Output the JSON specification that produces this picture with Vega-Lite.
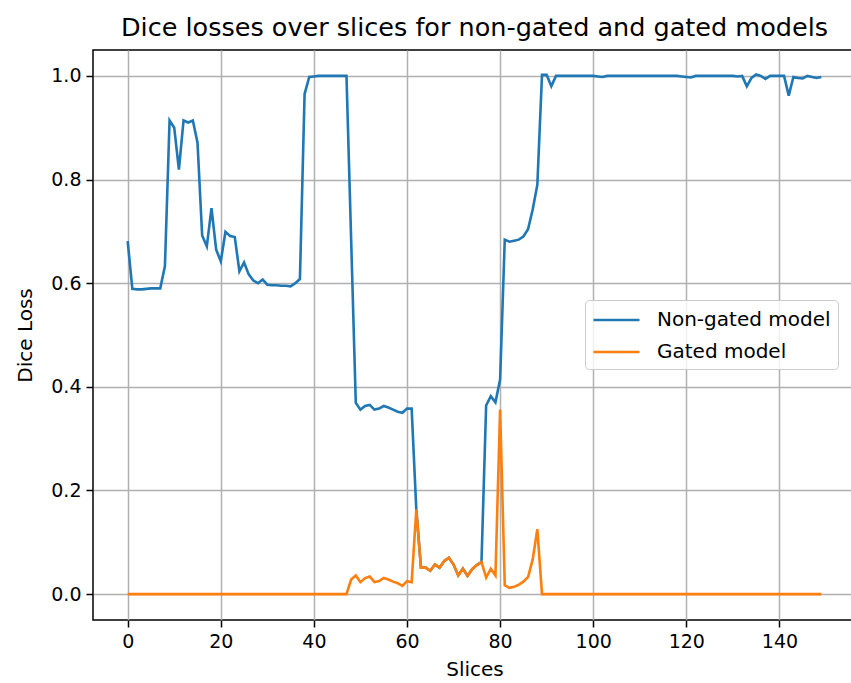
{
  "$schema": "https://vega.github.io/schema/vega-lite/v6.json",
  "autosize": "none",
  "padding": {"left": 93, "top": 50, "right": 0, "bottom": 63},
  "width": 763,
  "height": 570,
  "title": {"text": "Dice losses over slices for non-gated and gated models", "fontSize": 25.5, "font": "DejaVu Sans", "fontWeight": "normal", "color": "black", "offset": 9},
  "data": {"values": [
    {"slice":0,"Non-gated model":0.681,"Gated model":0},
    {"slice":1,"Non-gated model":0.589,"Gated model":0},
    {"slice":2,"Non-gated model":0.588,"Gated model":0},
    {"slice":3,"Non-gated model":0.588,"Gated model":0},
    {"slice":4,"Non-gated model":0.589,"Gated model":0},
    {"slice":5,"Non-gated model":0.590,"Gated model":0},
    {"slice":6,"Non-gated model":0.590,"Gated model":0},
    {"slice":7,"Non-gated model":0.590,"Gated model":0},
    {"slice":8,"Non-gated model":0.633,"Gated model":0},
    {"slice":9,"Non-gated model":0.914,"Gated model":0},
    {"slice":10,"Non-gated model":0.900,"Gated model":0},
    {"slice":11,"Non-gated model":0.819,"Gated model":0},
    {"slice":12,"Non-gated model":0.914,"Gated model":0},
    {"slice":13,"Non-gated model":0.910,"Gated model":0},
    {"slice":14,"Non-gated model":0.914,"Gated model":0},
    {"slice":15,"Non-gated model":0.871,"Gated model":0},
    {"slice":16,"Non-gated model":0.692,"Gated model":0},
    {"slice":17,"Non-gated model":0.671,"Gated model":0},
    {"slice":18,"Non-gated model":0.745,"Gated model":0},
    {"slice":19,"Non-gated model":0.665,"Gated model":0},
    {"slice":20,"Non-gated model":0.642,"Gated model":0},
    {"slice":21,"Non-gated model":0.699,"Gated model":0},
    {"slice":22,"Non-gated model":0.691,"Gated model":0},
    {"slice":23,"Non-gated model":0.689,"Gated model":0},
    {"slice":24,"Non-gated model":0.623,"Gated model":0},
    {"slice":25,"Non-gated model":0.640,"Gated model":0},
    {"slice":26,"Non-gated model":0.617,"Gated model":0},
    {"slice":27,"Non-gated model":0.605,"Gated model":0},
    {"slice":28,"Non-gated model":0.600,"Gated model":0},
    {"slice":29,"Non-gated model":0.607,"Gated model":0},
    {"slice":30,"Non-gated model":0.597,"Gated model":0},
    {"slice":31,"Non-gated model":0.596,"Gated model":0},
    {"slice":32,"Non-gated model":0.596,"Gated model":0},
    {"slice":33,"Non-gated model":0.595,"Gated model":0},
    {"slice":34,"Non-gated model":0.595,"Gated model":0},
    {"slice":35,"Non-gated model":0.594,"Gated model":0},
    {"slice":36,"Non-gated model":0.600,"Gated model":0},
    {"slice":37,"Non-gated model":0.608,"Gated model":0},
    {"slice":38,"Non-gated model":0.965,"Gated model":0},
    {"slice":39,"Non-gated model":0.998,"Gated model":0},
    {"slice":40,"Non-gated model":0.999,"Gated model":0},
    {"slice":41,"Non-gated model":1.0,"Gated model":0},
    {"slice":42,"Non-gated model":1.0,"Gated model":0},
    {"slice":43,"Non-gated model":1.0,"Gated model":0},
    {"slice":44,"Non-gated model":1.0,"Gated model":0},
    {"slice":45,"Non-gated model":1.0,"Gated model":0},
    {"slice":46,"Non-gated model":1.0,"Gated model":0},
    {"slice":47,"Non-gated model":1.0,"Gated model":0},
    {"slice":48,"Non-gated model":0.685,"Gated model":0.028},
    {"slice":49,"Non-gated model":0.369,"Gated model":0.036},
    {"slice":50,"Non-gated model":0.356,"Gated model":0.023},
    {"slice":51,"Non-gated model":0.363,"Gated model":0.031},
    {"slice":52,"Non-gated model":0.365,"Gated model":0.034},
    {"slice":53,"Non-gated model":0.356,"Gated model":0.023},
    {"slice":54,"Non-gated model":0.358,"Gated model":0.025},
    {"slice":55,"Non-gated model":0.363,"Gated model":0.031},
    {"slice":56,"Non-gated model":0.360,"Gated model":0.028},
    {"slice":57,"Non-gated model":0.356,"Gated model":0.024},
    {"slice":58,"Non-gated model":0.352,"Gated model":0.021},
    {"slice":59,"Non-gated model":0.350,"Gated model":0.016},
    {"slice":60,"Non-gated model":0.358,"Gated model":0.025},
    {"slice":61,"Non-gated model":0.358,"Gated model":0.023},
    {"slice":62,"Non-gated model":0.163,"Gated model":0.163},
    {"slice":63,"Non-gated model":0.051,"Gated model":0.051},
    {"slice":64,"Non-gated model":0.051,"Gated model":0.051},
    {"slice":65,"Non-gated model":0.045,"Gated model":0.045},
    {"slice":66,"Non-gated model":0.057,"Gated model":0.057},
    {"slice":67,"Non-gated model":0.051,"Gated model":0.051},
    {"slice":68,"Non-gated model":0.064,"Gated model":0.064},
    {"slice":69,"Non-gated model":0.070,"Gated model":0.070},
    {"slice":70,"Non-gated model":0.057,"Gated model":0.057},
    {"slice":71,"Non-gated model":0.036,"Gated model":0.036},
    {"slice":72,"Non-gated model":0.049,"Gated model":0.049},
    {"slice":73,"Non-gated model":0.035,"Gated model":0.035},
    {"slice":74,"Non-gated model":0.048,"Gated model":0.048},
    {"slice":75,"Non-gated model":0.056,"Gated model":0.056},
    {"slice":76,"Non-gated model":0.062,"Gated model":0.062},
    {"slice":77,"Non-gated model":0.364,"Gated model":0.032},
    {"slice":78,"Non-gated model":0.382,"Gated model":0.049},
    {"slice":79,"Non-gated model":0.370,"Gated model":0.036},
    {"slice":80,"Non-gated model":0.414,"Gated model":0.356},
    {"slice":81,"Non-gated model":0.684,"Gated model":0.017},
    {"slice":82,"Non-gated model":0.680,"Gated model":0.012},
    {"slice":83,"Non-gated model":0.682,"Gated model":0.014},
    {"slice":84,"Non-gated model":0.684,"Gated model":0.018},
    {"slice":85,"Non-gated model":0.690,"Gated model":0.024},
    {"slice":86,"Non-gated model":0.704,"Gated model":0.033},
    {"slice":87,"Non-gated model":0.742,"Gated model":0.067},
    {"slice":88,"Non-gated model":0.790,"Gated model":0.125},
    {"slice":89,"Non-gated model":1.002,"Gated model":0},
    {"slice":90,"Non-gated model":1.002,"Gated model":0},
    {"slice":91,"Non-gated model":0.980,"Gated model":0},
    {"slice":92,"Non-gated model":1.0,"Gated model":0},
    {"slice":93,"Non-gated model":1.0,"Gated model":0},
    {"slice":94,"Non-gated model":1.0,"Gated model":0},
    {"slice":95,"Non-gated model":1.0,"Gated model":0},
    {"slice":96,"Non-gated model":1.0,"Gated model":0},
    {"slice":97,"Non-gated model":1.0,"Gated model":0},
    {"slice":98,"Non-gated model":1.0,"Gated model":0},
    {"slice":99,"Non-gated model":1.0,"Gated model":0},
    {"slice":100,"Non-gated model":1.0,"Gated model":0},
    {"slice":101,"Non-gated model":0.999,"Gated model":0},
    {"slice":102,"Non-gated model":0.998,"Gated model":0},
    {"slice":103,"Non-gated model":1.0,"Gated model":0},
    {"slice":104,"Non-gated model":1.0,"Gated model":0},
    {"slice":105,"Non-gated model":1.0,"Gated model":0},
    {"slice":106,"Non-gated model":1.0,"Gated model":0},
    {"slice":107,"Non-gated model":1.0,"Gated model":0},
    {"slice":108,"Non-gated model":1.0,"Gated model":0},
    {"slice":109,"Non-gated model":1.0,"Gated model":0},
    {"slice":110,"Non-gated model":1.0,"Gated model":0},
    {"slice":111,"Non-gated model":1.0,"Gated model":0},
    {"slice":112,"Non-gated model":1.0,"Gated model":0},
    {"slice":113,"Non-gated model":1.0,"Gated model":0},
    {"slice":114,"Non-gated model":1.0,"Gated model":0},
    {"slice":115,"Non-gated model":1.0,"Gated model":0},
    {"slice":116,"Non-gated model":1.0,"Gated model":0},
    {"slice":117,"Non-gated model":1.0,"Gated model":0},
    {"slice":118,"Non-gated model":1.0,"Gated model":0},
    {"slice":119,"Non-gated model":0.999,"Gated model":0},
    {"slice":120,"Non-gated model":0.998,"Gated model":0},
    {"slice":121,"Non-gated model":0.997,"Gated model":0},
    {"slice":122,"Non-gated model":1.0,"Gated model":0},
    {"slice":123,"Non-gated model":1.0,"Gated model":0},
    {"slice":124,"Non-gated model":1.0,"Gated model":0},
    {"slice":125,"Non-gated model":1.0,"Gated model":0},
    {"slice":126,"Non-gated model":1.0,"Gated model":0},
    {"slice":127,"Non-gated model":1.0,"Gated model":0},
    {"slice":128,"Non-gated model":1.0,"Gated model":0},
    {"slice":129,"Non-gated model":1.0,"Gated model":0},
    {"slice":130,"Non-gated model":1.0,"Gated model":0},
    {"slice":131,"Non-gated model":0.999,"Gated model":0},
    {"slice":132,"Non-gated model":1.0,"Gated model":0},
    {"slice":133,"Non-gated model":0.980,"Gated model":0},
    {"slice":134,"Non-gated model":0.996,"Gated model":0},
    {"slice":135,"Non-gated model":1.003,"Gated model":0},
    {"slice":136,"Non-gated model":1.0,"Gated model":0},
    {"slice":137,"Non-gated model":0.994,"Gated model":0},
    {"slice":138,"Non-gated model":1.0,"Gated model":0},
    {"slice":139,"Non-gated model":1.0,"Gated model":0},
    {"slice":140,"Non-gated model":1.0,"Gated model":0},
    {"slice":141,"Non-gated model":1.0,"Gated model":0},
    {"slice":142,"Non-gated model":0.962,"Gated model":0},
    {"slice":143,"Non-gated model":0.998,"Gated model":0},
    {"slice":144,"Non-gated model":0.996,"Gated model":0},
    {"slice":145,"Non-gated model":0.995,"Gated model":0},
    {"slice":146,"Non-gated model":1.0,"Gated model":0},
    {"slice":147,"Non-gated model":0.998,"Gated model":0},
    {"slice":148,"Non-gated model":0.996,"Gated model":0},
    {"slice":149,"Non-gated model":0.998,"Gated model":0}
  ]},
  "transform": [{"fold": ["Non-gated model", "Gated model"], "as": ["model", "loss"]}],
  "mark": {"type": "line", "strokeWidth": 2.6, "clip": true},
  "encoding": {
    "x": {"field": "slice", "type": "quantitative",
      "scale": {"domain": [-7.45, 156.45], "nice": false, "zero": false},
      "axis": {"title": "Slices", "values": [0,20,40,60,80,100,120,140], "format": "d"}},
    "y": {"field": "loss", "type": "quantitative",
      "scale": {"domain": [-0.05, 1.05], "nice": false, "zero": false},
      "axis": {"title": "Dice Loss", "values": [0,0.2,0.4,0.6,0.8,1.0], "format": ".1f"}},
    "color": {"field": "model", "type": "nominal",
      "scale": {"domain": ["Non-gated model", "Gated model"], "range": ["#1f77b4", "#ff7f0e"]},
      "legend": {"orient": "none", "legendX": 492, "legendY": 250, "title": null,
        "symbolType": "M-1,0H3", "symbolSize": 529, "symbolStrokeWidth": 2.6,
        "labelFontSize": 20, "labelOffset": 39, "labelLimit": 400, "rowPadding": 9, "padding": 7,
        "fillColor": "rgba(255,255,255,0.8)", "strokeColor": "#cccccc", "cornerRadius": 4,
        "labelColor": "black", "labelFont": "DejaVu Sans"}}
  },
  "config": {
    "font": "DejaVu Sans",
    "view": {"stroke": "black", "strokeWidth": 1.5},
    "axis": {
      "domain": false,
      "grid": true, "gridColor": "#b0b0b0", "gridWidth": 1.5,
      "ticks": true, "tickColor": "black", "tickSize": 7, "tickWidth": 1.5,
      "labelFont": "DejaVu Sans", "labelFontSize": 19, "labelColor": "black", "labelPadding": 5,
      "titleFont": "DejaVu Sans", "titleFontSize": 20, "titleFontWeight": "normal", "titleColor": "black"
    },
    "axisX": {"titlePadding": 8, "labelFlush": false},
    "axisY": {"titlePadding": 15, "labelFlush": false}
  }
}
